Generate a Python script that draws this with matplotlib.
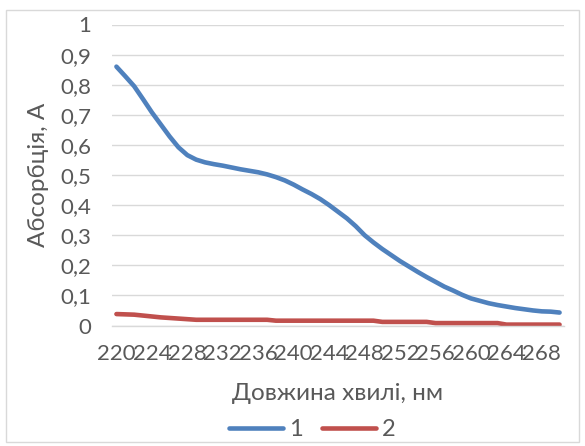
import matplotlib
matplotlib.use("Agg")
import matplotlib.pyplot as plt
from matplotlib.patches import Rectangle

plt.rcParams['font.family'] = ['Lato', 'Open Sans', 'DejaVu Sans']

wavelength = list(range(220, 271))
series1 = [0.860, 0.828, 0.795, 0.752, 0.708, 0.668, 0.628, 0.592, 0.566, 0.551,
           0.542, 0.536, 0.531, 0.525, 0.519, 0.514, 0.509, 0.502, 0.493, 0.482,
           0.468, 0.452, 0.437, 0.420, 0.400, 0.378, 0.356, 0.330, 0.300, 0.276,
           0.254, 0.234, 0.214, 0.196, 0.178, 0.161, 0.145, 0.129, 0.116, 0.102,
           0.090, 0.082, 0.074, 0.068, 0.063, 0.058, 0.054, 0.050, 0.047, 0.046,
           0.043]
series2 = [0.038, 0.037, 0.036, 0.033, 0.030, 0.027, 0.025, 0.023, 0.021, 0.019,
           0.019, 0.019, 0.019, 0.019, 0.019, 0.019, 0.019, 0.019, 0.016, 0.016,
           0.016, 0.016, 0.016, 0.016, 0.016, 0.016, 0.016, 0.016, 0.016, 0.016,
           0.012, 0.012, 0.012, 0.012, 0.012, 0.012, 0.008, 0.008, 0.008, 0.008,
           0.008, 0.008, 0.008, 0.008, 0.003, 0.003, 0.003, 0.003, 0.003, 0.003,
           0.003]
series_names = ['1', '2']
x_tick_labels = [str(v) for v in range(220, 269, 4)]
y_ticks = [0, 0.1, 0.2, 0.3, 0.4, 0.5, 0.6, 0.7, 0.8, 0.9, 1]
y_tick_labels = ['0', '0,1', '0,2', '0,3', '0,4', '0,5', '0,6', '0,7', '0,8', '0,9', '1']
x_title = 'Довжина хвилі, нм'
y_title = 'Абсорбція, А'

W, H = 585, 446
fig = plt.figure(figsize=(W / 100, H / 100), dpi=100)
fig.patch.set_facecolor('white')
fig.patches.append(Rectangle((6 / W, 4 / H), (W - 12) / W, (H - 14) / H,
                             transform=fig.transFigure, fill=False,
                             edgecolor='#D9D9D9', linewidth=1))

ax = fig.add_axes([112 / W, 1 - 325.5 / H, (564 - 112) / W, (325.5 - 24.5) / H])
ax.plot(wavelength, series1, color='#4F81BD', linewidth=3.3, label=series_names[0],
        solid_capstyle='round', solid_joinstyle='round')
ax.plot(wavelength, series2, color='#C0504D', linewidth=3.3, label=series_names[1],
        solid_capstyle='round', solid_joinstyle='round')

ax.set_xlim(219.5, 270.5)
ax.set_ylim(0, 1)
ax.set_yticks(y_ticks)
ax.set_yticklabels(y_tick_labels)
ax.set_xticks(list(range(220, 269, 4)))
ax.set_xticklabels(x_tick_labels)
ax.grid(axis='y', color='#D9D9D9', linewidth=1)
ax.set_axisbelow(True)
for s in ['left', 'right', 'top']:
    ax.spines[s].set_visible(False)
ax.spines['bottom'].set_color('#D9D9D9')
ax.spines['bottom'].set_linewidth(1)
ax.tick_params(axis='both', length=0, labelsize=16, labelcolor='#595959')
ax.tick_params(axis='y', pad=15)
ax.tick_params(axis='x', pad=13)

ax.set_xlabel(x_title, fontsize=17.5, color='#595959', labelpad=14)
ax.set_ylabel(y_title, fontsize=17.5, color='#595959', labelpad=8)

leg = ax.legend(loc='center', bbox_to_anchor=(312 / W, (H - 430) / H), bbox_transform=fig.transFigure,
                ncol=2, frameon=False, fontsize=17, handlelength=2.3, handletextpad=0.25,
                columnspacing=0.8)
for t in leg.get_texts():
    t.set_color('#595959')

fig.savefig('out.png', dpi=100, facecolor='white')
